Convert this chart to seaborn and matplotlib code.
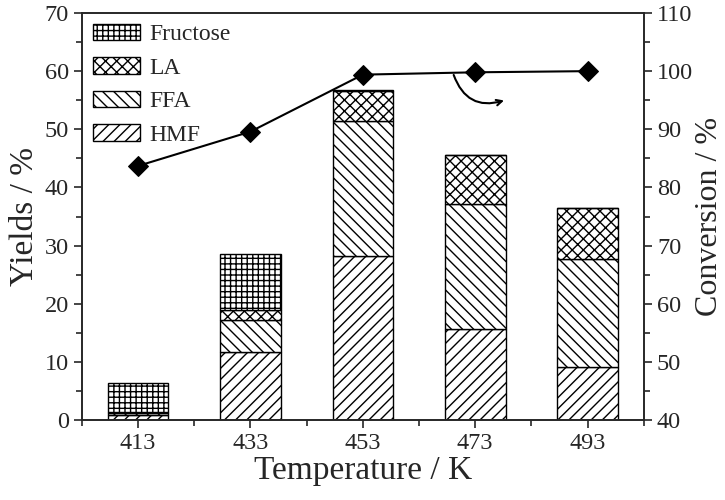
import seaborn as sns
import pandas as pd
import matplotlib.pyplot as plt
import matplotlib.ticker as ticker
from matplotlib.patches import Patch

temps = ["413", "433", "453", "473", "493"]
hmf = [0.85, 11.7, 28.2, 15.7, 9.1]
ffa = [0.3, 5.5, 23.3, 21.5, 18.6]
la = [0.25, 1.7, 5.0, 8.3, 8.8]
fructose = [5.0, 9.7, 0.3, 0.0, 0.0]
conversion = [83.7, 89.6, 99.4, 99.8, 100.0]

layers = [("HMF", hmf, "///"), ("FFA", ffa, "\\\\\\"),
          ("LA", la, "xxx"), ("Fructose", fructose, "+++")]


def set_plot_params():
    sns.set_style("ticks")
    params = {
        "font.family": ["Liberation Serif", "DejaVu Serif"],
        "hatch.linewidth": 1.0,
        "axes.linewidth": 1.2,
        "xtick.direction": "out",
        "ytick.direction": "out",
        "xtick.major.size": 6,
        "ytick.major.size": 6,
        "xtick.minor.size": 4,
        "ytick.minor.size": 4,
        "xtick.major.width": 1.2,
        "ytick.major.width": 1.2,
        "xtick.minor.width": 1.2,
        "ytick.minor.width": 1.2,
        "xtick.labelsize": 17.5,
        "ytick.labelsize": 17.5,
        "axes.labelsize": 24,
    }
    plt.rcParams.update(params)


set_plot_params()

fig = plt.figure(figsize=(7.25, 5), dpi=100)
ax1 = fig.add_axes([0.113, 0.16, 0.775, 0.814])

bottom = [0.0] * len(temps)
for name, vals, hatch in layers:
    df = pd.DataFrame({"T": temps, "v": vals})
    sns.barplot(data=df, x="T", y="v", ax=ax1, color="white", edgecolor="black",
                linewidth=1.0, hatch=hatch, width=0.54, bottom=bottom)
    bottom = [b + v for b, v in zip(bottom, vals)]

ax1.set_xlim(-0.5, 4.5)
ax1.set_ylim(0, 70)
ax1.yaxis.set_major_locator(ticker.MultipleLocator(10))
ax1.yaxis.set_minor_locator(ticker.MultipleLocator(5))
ax1.xaxis.set_minor_locator(ticker.FixedLocator([-0.5, 0.5, 1.5, 2.5, 3.5, 4.5]))
ax1.set_xlabel("Temperature / K", labelpad=1)
ax1.set_ylabel("Yields / %", labelpad=3)
ax1.tick_params(top=False, right=False, which="both")

handles = [Patch(facecolor="white", edgecolor="black", hatch=h, label=n)
           for n, _, h in layers[::-1]]
ax1.legend(handles=handles, loc="upper left", frameon=False, fontsize=17,
           handlelength=2.0, handleheight=0.72, labelspacing=0.5,
           borderaxespad=0.15, borderpad=0.3, handletextpad=0.4)

ax2 = ax1.twinx()
line_df = pd.DataFrame({"x": range(len(temps)), "c": conversion})
sns.lineplot(data=line_df, x="x", y="c", ax=ax2, color="black", marker="D",
             markersize=10.5, linewidth=1.5, markeredgecolor="black")
ax2.set_ylim(40, 110)
ax2.yaxis.set_major_locator(ticker.MultipleLocator(10))
ax2.yaxis.set_minor_locator(ticker.MultipleLocator(5))
ax2.set_ylabel("Conversion / %", labelpad=1, fontsize=23)
ax2.set_xlim(-0.5, 4.5)

ax2.annotate("", xy=(3.28, 95.1), xytext=(2.8, 99.8),
             arrowprops=dict(arrowstyle="->", color="black", lw=1.5,
                             connectionstyle="arc3,rad=0.5"))

fig.savefig("out.png", dpi=100)
